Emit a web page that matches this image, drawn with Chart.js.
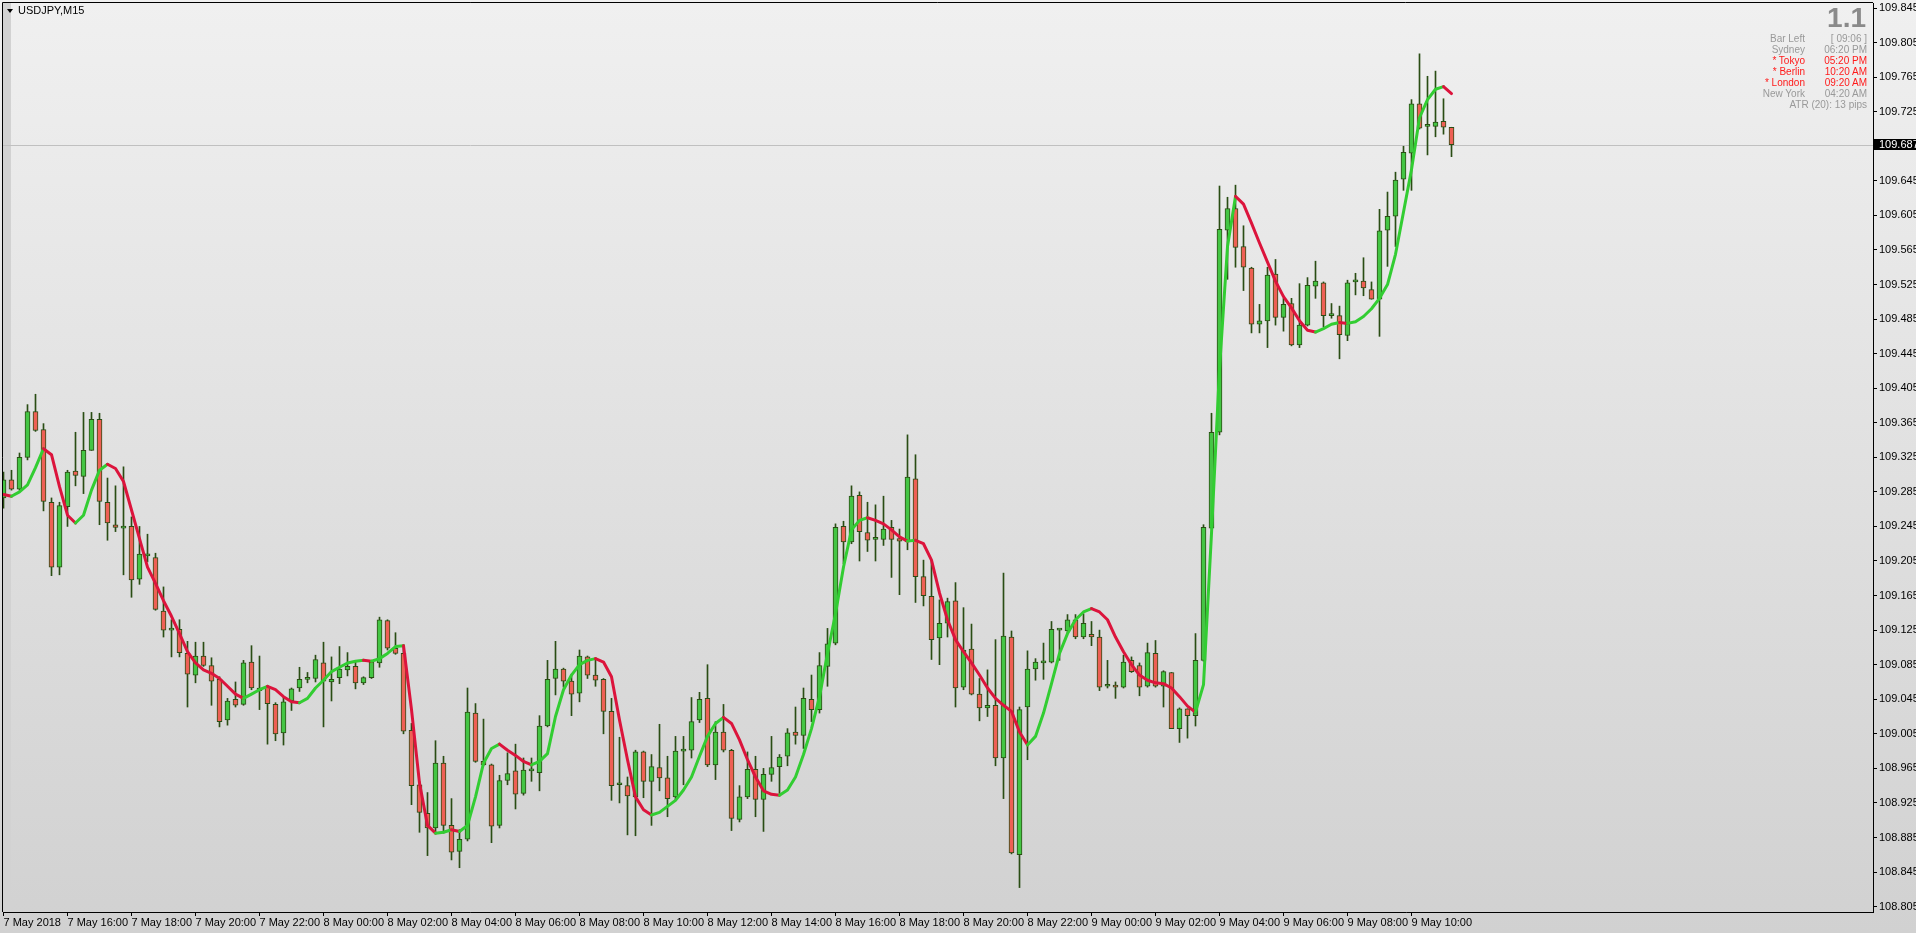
<!DOCTYPE html>
<html><head><meta charset="utf-8">
<script src="https://cdn.jsdelivr.net/npm/chart.js@4/dist/chart.umd.min.js"></script>
<style>
html,body{margin:0;padding:0;width:1916px;height:933px;overflow:hidden;background:#e0e0e0;}
#wrap{position:relative;width:1916px;height:933px;}
canvas{position:absolute;left:0;top:0;}
.n{position:absolute;white-space:nowrap;font-family:'Liberation Sans Narrow','Liberation Sans',Arial,sans-serif;font-size:11px;}
.p{position:absolute;white-space:nowrap;font-family:'Liberation Sans',Arial,sans-serif;font-size:10px;line-height:11px;color:#999;text-align:right;}
#tri{position:absolute;left:7px;top:9px;width:0;height:0;border-left:3px solid transparent;border-right:3px solid transparent;border-top:4px solid #000;}
#title{left:18px;top:4px;color:#000;line-height:13px;}
#big{position:absolute;right:50px;top:4px;font-family:'Liberation Sans',Arial,sans-serif;font-weight:bold;font-size:28px;line-height:28px;color:#8a8a8a;}
#plabel{left:1874px;width:42px;height:11px;line-height:11px;background:#000;color:#fff;padding-left:5px;box-sizing:border-box;}
</style></head><body>
<div id="wrap">
<canvas id="c" width="1916" height="933"></canvas>
<div id="tri"></div>
<div id="title" class="n"></div>
<div id="big"></div>
<div id="panel"></div>
<div id="plabel" class="n"></div>
</div>
<script>
// ---- data ----
const symbolTitle = "USDJPY,M15";
const spreadText = "1.1";
const panelLeft  = ["Bar Left", "Sydney", "* Tokyo", "* Berlin", "* London", "New York"];
const panelRight = ["[ 09:06 ]", "06:20 PM", "05:20 PM", "10:20 AM", "09:20 AM", "04:20 AM"];
const panelOpen  = [false, false, true, true, true, false];
const atrText = "ATR (20): 13 pips";

const xTickLabels = ["7 May 2018","7 May 16:00","7 May 18:00","7 May 20:00","7 May 22:00",
  "8 May 00:00","8 May 02:00","8 May 04:00","8 May 06:00","8 May 08:00","8 May 10:00",
  "8 May 12:00","8 May 14:00","8 May 16:00","8 May 18:00","8 May 20:00","8 May 22:00",
  "9 May 00:00","9 May 02:00","9 May 04:00","9 May 06:00","9 May 08:00","9 May 10:00"];
const barsPerLabel = 8; // 2 hours of 15-minute bars

const yTickValues = [109.845,109.805,109.765,109.725,109.645,109.605,109.565,109.525,109.485,
  109.445,109.405,109.365,109.325,109.285,109.245,109.205,109.165,109.125,109.085,109.045,
  109.005,108.965,108.925,108.885,108.845,108.805];

const opens = [109.278,109.299,109.288,109.325,109.378,109.357,109.273,109.198,109.268,109.309,
109.303,109.333,109.369,109.273,109.247,109.243,109.245,109.184,109.211,109.209,
109.147,109.125,109.126,109.098,109.073,109.095,109.084,109.068,109.021,109.045,
109.039,109.088,109.055,109.060,109.039,109.006,109.043,109.058,109.068,109.069,
109.087,109.065,109.070,109.079,109.083,109.064,109.070,109.087,109.136,109.104,
109.098,109.009,108.946,108.913,108.896,108.971,108.899,108.869,108.883,109.029,
108.973,108.969,108.899,108.951,108.962,108.936,108.962,108.960,109.014,109.069,
109.080,109.066,109.052,109.094,109.073,109.068,109.031,108.946,108.945,108.932,
108.984,108.950,108.966,108.954,108.932,108.985,108.986,109.021,109.046,108.969,
109.007,108.986,108.906,108.932,108.964,108.929,108.958,108.967,108.979,109.007,
109.003,109.045,109.033,109.083,109.110,109.245,109.227,109.281,109.238,109.230,
109.230,109.244,109.231,109.227,109.300,109.187,109.164,109.116,109.133,109.159,
109.059,109.103,109.051,109.035,109.038,108.977,109.117,108.865,109.036,109.080,
109.087,109.088,109.125,109.124,109.137,109.117,109.120,109.117,109.060,109.061,
109.059,109.090,109.084,109.060,109.098,109.060,109.076,109.011,109.034,109.026,
109.090,109.243,109.354,109.588,109.613,109.569,109.544,109.479,109.483,109.537,
109.487,109.503,109.455,109.478,109.523,109.527,109.489,109.489,109.466,109.528,
109.529,109.519,109.508,109.588,109.604,109.647,109.677,109.734,109.708,109.708,
109.714,109.707];

const highs = [109.308,109.310,109.330,109.386,109.398,109.364,109.278,109.273,109.310,109.354,
109.377,109.377,109.376,109.301,109.292,109.314,109.256,109.245,109.236,109.214,
109.175,109.137,109.137,109.112,109.111,109.111,109.093,109.071,109.046,109.065,
109.090,109.107,109.095,109.061,109.041,109.048,109.058,109.082,109.076,109.096,
109.111,109.094,109.106,109.099,109.090,109.071,109.090,109.140,109.137,109.122,
109.108,109.017,108.950,108.937,108.997,108.979,108.930,108.894,109.058,109.040,
109.022,108.970,108.957,108.983,108.993,108.977,108.977,109.026,109.090,109.112,
109.081,109.074,109.102,109.095,109.090,109.069,109.046,109.001,108.955,108.986,
108.985,108.981,109.016,108.979,109.002,109.002,109.047,109.053,109.085,109.019,
109.039,108.987,108.945,108.984,108.979,108.965,109.002,108.981,109.011,109.036,
109.058,109.073,109.099,109.127,109.248,109.251,109.292,109.285,109.273,109.270,
109.280,109.252,109.242,109.351,109.328,109.206,109.206,109.160,109.162,109.180,
109.151,109.132,109.069,109.079,109.114,109.191,109.124,109.036,109.101,109.092,
109.110,109.135,109.126,109.143,109.143,109.144,109.135,109.125,109.090,109.065,
109.096,109.094,109.087,109.110,109.113,109.078,109.076,109.035,109.034,109.121,
109.247,109.376,109.639,109.626,109.640,109.593,109.545,109.502,109.545,109.554,
109.509,109.509,109.526,109.533,109.552,109.528,109.503,109.500,109.530,109.538,
109.556,109.528,109.612,109.632,109.655,109.685,109.739,109.792,109.766,109.772,
109.740,109.707];

const lows = [109.266,109.287,109.287,109.322,109.355,109.263,109.188,109.189,109.245,109.292,
109.283,109.333,109.247,109.229,109.239,109.189,109.163,109.178,109.204,109.148,
109.117,109.094,109.094,109.036,109.064,109.083,109.038,109.013,109.015,109.036,
109.038,109.056,109.033,108.993,108.997,108.992,109.032,109.054,109.064,109.065,
109.013,109.043,109.063,109.072,109.057,109.062,109.069,109.082,109.102,109.097,
109.005,108.923,108.891,108.864,108.890,108.890,108.859,108.850,108.881,108.972,
108.968,108.879,108.896,108.946,108.918,108.934,108.950,108.939,109.013,109.050,
109.059,109.026,109.042,109.069,109.060,109.005,108.928,108.925,108.888,108.887,
108.931,108.899,108.939,108.909,108.928,108.946,108.977,109.018,108.967,108.952,
108.984,108.893,108.903,108.930,108.909,108.892,108.950,108.936,108.968,108.993,
108.988,109.019,109.029,109.060,109.108,109.202,109.225,109.205,109.216,109.205,
109.223,109.186,109.166,109.218,109.157,109.153,109.091,109.085,109.117,109.036,
109.056,109.050,109.020,109.025,108.968,108.930,108.866,108.827,108.975,109.067,
109.068,109.087,109.090,109.122,109.115,109.115,109.107,109.055,109.058,109.046,
109.058,109.076,109.049,109.059,109.059,109.036,109.011,108.995,109.000,109.014,
109.089,109.242,109.351,109.531,109.545,109.518,109.469,109.469,109.452,109.478,
109.471,109.454,109.452,109.477,109.509,109.476,109.486,109.439,109.460,109.513,
109.512,109.508,109.465,109.546,109.569,109.634,109.634,109.705,109.675,109.696,
109.699,109.673];

const closes = [109.299,109.288,109.325,109.378,109.356,109.274,109.198,109.269,109.308,109.304,
109.333,109.369,109.274,109.249,109.244,109.245,109.183,109.213,109.212,109.149,
109.125,109.127,109.099,109.074,109.095,109.084,109.066,109.019,109.043,109.038,
109.087,109.058,109.058,109.040,109.005,109.042,109.057,109.068,109.070,109.091,
109.066,109.068,109.080,109.083,109.064,109.070,109.088,109.137,109.104,109.098,
109.008,108.945,108.914,108.896,108.971,108.899,108.868,108.883,109.030,108.973,
108.969,108.898,108.951,108.959,108.935,108.963,108.962,109.014,109.068,109.080,
109.066,109.051,109.095,109.073,109.067,109.031,108.945,108.947,108.933,108.984,
108.950,108.967,108.954,108.930,108.985,108.986,109.019,109.045,108.969,109.007,
108.986,108.907,108.932,108.964,108.929,108.958,108.966,108.978,109.006,109.003,
109.046,109.033,109.084,109.109,109.244,109.227,109.280,109.239,109.229,109.231,
109.242,109.230,109.228,109.302,109.187,109.165,109.114,109.133,109.158,109.058,
109.102,109.051,109.035,109.038,108.977,109.118,108.867,109.033,109.080,109.088,
109.088,109.126,109.125,109.137,109.117,109.133,109.117,109.059,109.061,109.059,
109.088,109.077,109.059,109.099,109.060,109.077,109.011,109.034,109.026,109.090,
109.244,109.354,109.589,109.613,109.568,109.545,109.479,109.483,109.536,109.487,
109.502,109.455,109.478,109.524,109.529,109.489,109.489,109.467,109.527,109.528,
109.521,109.508,109.587,109.604,109.646,109.678,109.734,109.706,109.708,109.713,
109.707,109.687];

const maLine = [109.282,109.280,109.285,109.293,109.313,109.335,109.328,109.291,109.258,109.249,
109.258,109.287,109.310,109.317,109.312,109.297,109.264,109.231,109.198,109.179,
109.159,109.141,109.121,109.100,109.087,109.079,109.075,109.069,109.060,109.051,
109.046,109.051,109.056,109.060,109.056,109.048,109.042,109.041,109.046,109.058,
109.067,109.077,109.082,109.087,109.089,109.090,109.089,109.092,109.098,109.106,
109.107,109.033,108.948,108.899,108.890,108.891,108.894,108.892,108.899,108.932,
108.971,108.988,108.993,108.986,108.980,108.973,108.969,108.973,108.982,109.025,
109.056,109.073,109.085,109.090,109.092,109.088,109.071,109.021,108.975,108.932,
108.917,108.911,108.914,108.921,108.928,108.940,108.955,108.979,109.002,109.017,
109.024,109.017,108.998,108.975,108.955,108.939,108.935,108.934,108.940,108.955,
108.981,109.011,109.048,109.098,109.144,109.198,109.241,109.252,109.255,109.252,
109.248,109.241,109.233,109.228,109.229,109.225,109.206,109.168,109.137,109.114,
109.100,109.087,109.073,109.058,109.046,109.038,109.031,109.007,108.992,109.002,
109.029,109.063,109.098,109.121,109.137,109.146,109.150,109.146,109.137,109.117,
109.100,109.085,109.073,109.067,109.064,109.063,109.058,109.048,109.037,109.030,
109.062,109.237,109.427,109.569,109.627,109.618,109.596,109.573,109.551,109.529,
109.511,109.498,109.483,109.472,109.470,109.474,109.479,109.481,109.480,109.482,
109.488,109.497,109.509,109.525,109.560,109.609,109.658,109.718,109.739,109.751,
109.754,109.746];

// ---- styles ----
const C_UP_LINE = '#32cd32', C_DN_LINE = '#dc143c';
const C_BULL = '#44c544', C_BEAR = '#ee6055', C_EDGE = '#2a4d14';

const currentPrice = closes[closes.length - 1];
const idx = opens.map((_, i) => i);

// overlays (real text)
document.getElementById('title').textContent = symbolTitle;
document.getElementById('big').textContent = spreadText;
const panel = document.getElementById('panel');
panelLeft.forEach((t, i) => {
  const top = 33 + i * 11;
  const col = panelOpen[i] ? '#ff1a1a' : '#999';
  const a = document.createElement('div'); a.className = 'p'; a.style.right = '111px'; a.style.top = top + 'px'; a.style.color = col; a.textContent = t;
  const b = document.createElement('div'); b.className = 'p'; b.style.right = '49px'; b.style.top = top + 'px'; b.style.color = col; b.textContent = panelRight[i];
  panel.appendChild(a); panel.appendChild(b);
});
const atr = document.createElement('div'); atr.className = 'p'; atr.style.right = '49px'; atr.style.top = (33 + 6 * 11) + 'px'; atr.textContent = atrText;
panel.appendChild(atr);

Chart.defaults.font.family = "'Liberation Sans Narrow','Liberation Sans',Arial,sans-serif";
Chart.defaults.font.size = 11;
Chart.defaults.color = '#000';

const mt4Plugin = {
  id: 'mt4',
  beforeDraw(chart) {
    const {ctx, width, height, chartArea: a} = chart;
    const g = ctx.createLinearGradient(0, 0, 0, height);
    g.addColorStop(0, '#f0f0f0'); g.addColorStop(1, '#d1d1d1');
    ctx.save();
    ctx.fillStyle = g; ctx.fillRect(0, 0, width, height);
    ctx.fillStyle = '#d2d2d2'; ctx.fillRect(a.left, a.top, 8, a.bottom - a.top);
    ctx.restore();
  },
  beforeDatasetsDraw(chart) {
    const {ctx, chartArea: a, scales: {y}} = chart;
    const py = Math.round(y.getPixelForValue(currentPrice)) + 0.5;
    ctx.save(); ctx.strokeStyle = '#c0c0c0'; ctx.lineWidth = 1;
    ctx.beginPath(); ctx.moveTo(a.left, py); ctx.lineTo(a.right, py); ctx.stroke();
    ctx.restore();
  },
  afterDraw(chart) {
    const {ctx, chartArea: a} = chart;
    ctx.save(); ctx.strokeStyle = '#000'; ctx.lineWidth = 1;
    ctx.beginPath();
    ctx.moveTo(a.left - 0.5, a.bottom); ctx.lineTo(a.left - 0.5, a.top - 0.5); ctx.lineTo(a.right, a.top - 0.5);
    ctx.stroke(); ctx.restore();
  }
};

const chart = new Chart(document.getElementById('c'), {
  type: 'bar',
  data: {
    datasets: [
      { type: 'line', label: 'MA', data: idx.map(i => ({x: i, y: maLine[i]})),
        borderWidth: 3, pointRadius: 0, tension: 0, order: 0, borderColor: C_UP_LINE,
        borderCapStyle: 'round', borderJoinStyle: 'round',
        segment: { borderColor: c => c.p1.parsed.y >= c.p0.parsed.y ? C_UP_LINE : C_DN_LINE } },
      { type: 'bar', label: 'body', data: idx.map(i => ({x: i, y: [opens[i], closes[i]]})),
        backgroundColor: idx.map(i => closes[i] >= opens[i] ? C_BULL : C_BEAR),
        borderColor: C_EDGE, borderWidth: 1, borderSkipped: false, barThickness: 5,
        minBarLength: 2, grouped: false, order: 1 },
      { type: 'bar', label: 'wick', data: idx.map(i => ({x: i, y: [lows[i], highs[i]]})),
        backgroundColor: C_EDGE, borderWidth: 0, barThickness: 1, grouped: false, order: 2 }
    ]
  },
  options: {
    responsive: false, animation: false, devicePixelRatio: 1, events: [],
    layout: { padding: {left: 3, top: 3, right: 0, bottom: 0}, autoPadding: false },
    plugins: { legend: {display: false}, tooltip: {enabled: false}, title: {display: false} },
    scales: {
      x: { type: 'linear', position: 'bottom', min: -0.0625, max: 233.6875, offset: false,
        afterBuildTicks: s => { s.ticks = xTickLabels.map((_, k) => ({value: k * barsPerLabel})); },
        afterFit: s => { s.height = 21; s.paddingLeft = 0; s.paddingRight = 0; },
        ticks: { align: 'start', maxRotation: 0, minRotation: 0, autoSkip: false, padding: 0, color: '#000',
          callback: (v, i) => xTickLabels[i] },
        grid: { drawOnChartArea: false, drawTicks: true, tickLength: 4, color: '#000', offset: false },
        border: { display: true, color: '#000' } },
      y: { type: 'linear', position: 'right', min: 108.79875, max: 109.85083,
        afterBuildTicks: s => { s.ticks = yTickValues.map(v => ({value: v})); },
        afterFit: s => { s.width = 43; s.paddingTop = 0; s.paddingBottom = 0; },
        ticks: { padding: 2, color: '#000', callback: v => Number(v).toFixed(3) },
        grid: { drawOnChartArea: false, drawTicks: true, tickLength: 4, color: '#000' },
        border: { display: true, color: '#000' } }
    }
  },
  plugins: [mt4Plugin]
});

const pl = document.getElementById('plabel');
pl.textContent = currentPrice.toFixed(3);
pl.style.top = (chart.scales.y.getPixelForValue(currentPrice) - 5.5) + 'px';
</script>
</body></html>
